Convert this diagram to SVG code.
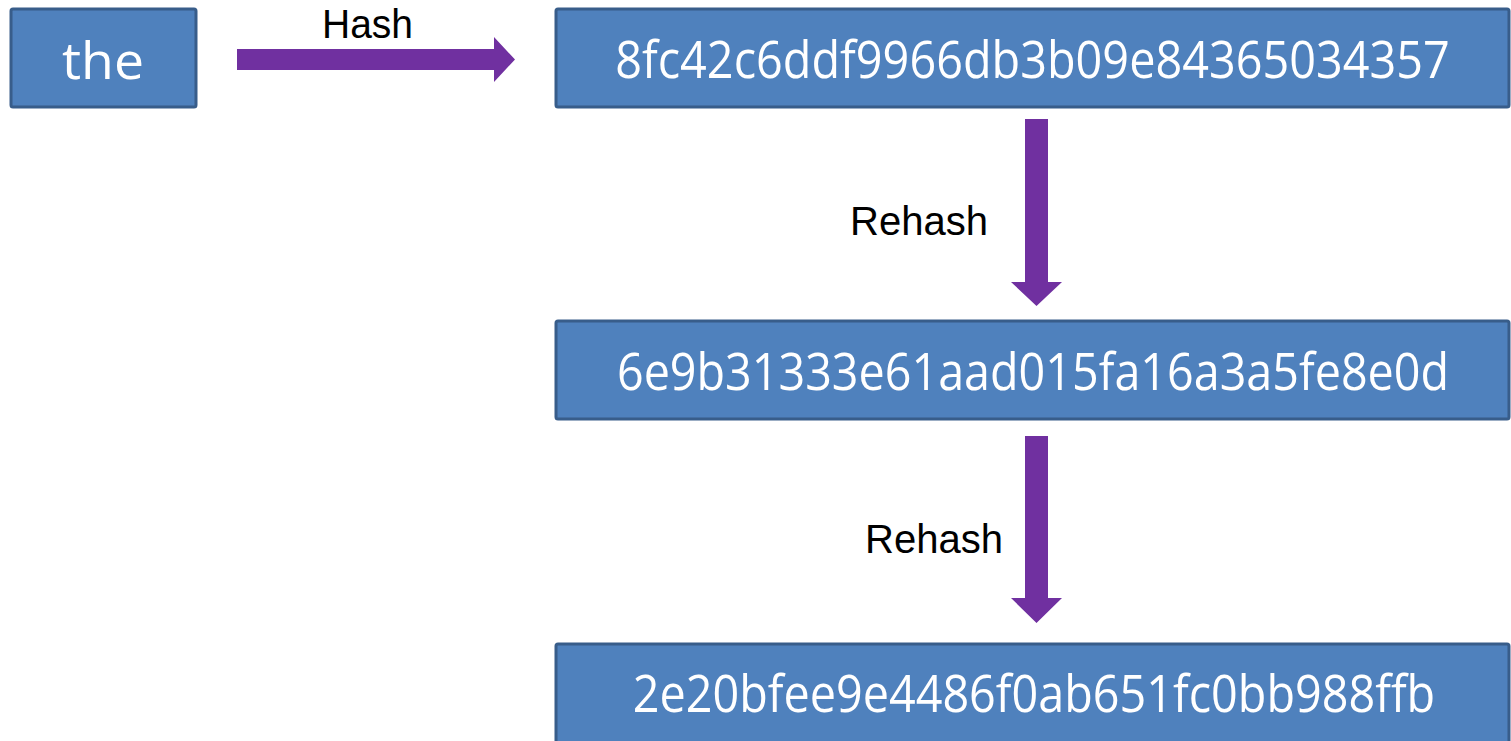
<svg xmlns="http://www.w3.org/2000/svg" width="1511" height="741" viewBox="0 0 1511 741">
<style>
.box{fill:#4F81BD;stroke:#385D8A;stroke-width:3}
.bt{fill:#fff;font-family:"Open Sans","Liberation Sans",sans-serif;font-size:52px;text-anchor:middle}
.lbl{fill:#000;font-family:"Liberation Sans",Arial,sans-serif;text-anchor:start;font-size:40px}
.arr{fill:#7030A0}
</style>
<rect width="1511" height="741" fill="#fff"/>
<g id="node-the">
<rect class="box" x="11" y="9" width="185" height="98" rx="2"/>
<text class="bt" x="103" y="79" font-size="55" textLength="82" lengthAdjust="spacingAndGlyphs">the</text>
</g>
<g id="node-hash1">
<rect class="box" x="556" y="9" width="953" height="98" rx="2"/>
<text class="bt" transform="translate(1032.5,78) scale(0.85,1)" x="0" y="0" textLength="982" lengthAdjust="spacingAndGlyphs">8fc42c6ddf9966db3b09e84365034357</text>
</g>
<g id="node-hash2">
<rect class="box" x="556" y="321" width="953" height="98" rx="2"/>
<text class="bt" transform="translate(1033,390) scale(0.85,1)" x="0" y="0" textLength="979" lengthAdjust="spacingAndGlyphs">6e9b31333e61aad015fa16a3a5fe8e0d</text>
</g>
<g id="node-hash3">
<rect class="box" x="556" y="644" width="953" height="100" rx="2"/>
<text class="bt" transform="translate(1034,712) scale(0.85,1)" x="0" y="0" textLength="944" lengthAdjust="spacingAndGlyphs">2e20bfee9e4486f0ab651fc0bb988ffb</text>
</g>
<g id="connectors">
<polygon class="arr" points="237,49 494,49 494,37 515,59.5 494,82 494,70 237,70"/>
<text class="lbl" x="322" y="37.5" textLength="91" lengthAdjust="spacingAndGlyphs">Hash</text>
<polygon class="arr" points="1025,119 1048,119 1048,282 1062,282 1036.5,306 1011,282 1025,282"/>
<text class="lbl" x="850" y="235" textLength="138" lengthAdjust="spacingAndGlyphs">Rehash</text>
<polygon class="arr" points="1025,436 1048,436 1048,598 1062,598 1036.5,623 1011,598 1025,598"/>
<text class="lbl" x="865" y="553" textLength="138" lengthAdjust="spacingAndGlyphs">Rehash</text>
</g>
</svg>
